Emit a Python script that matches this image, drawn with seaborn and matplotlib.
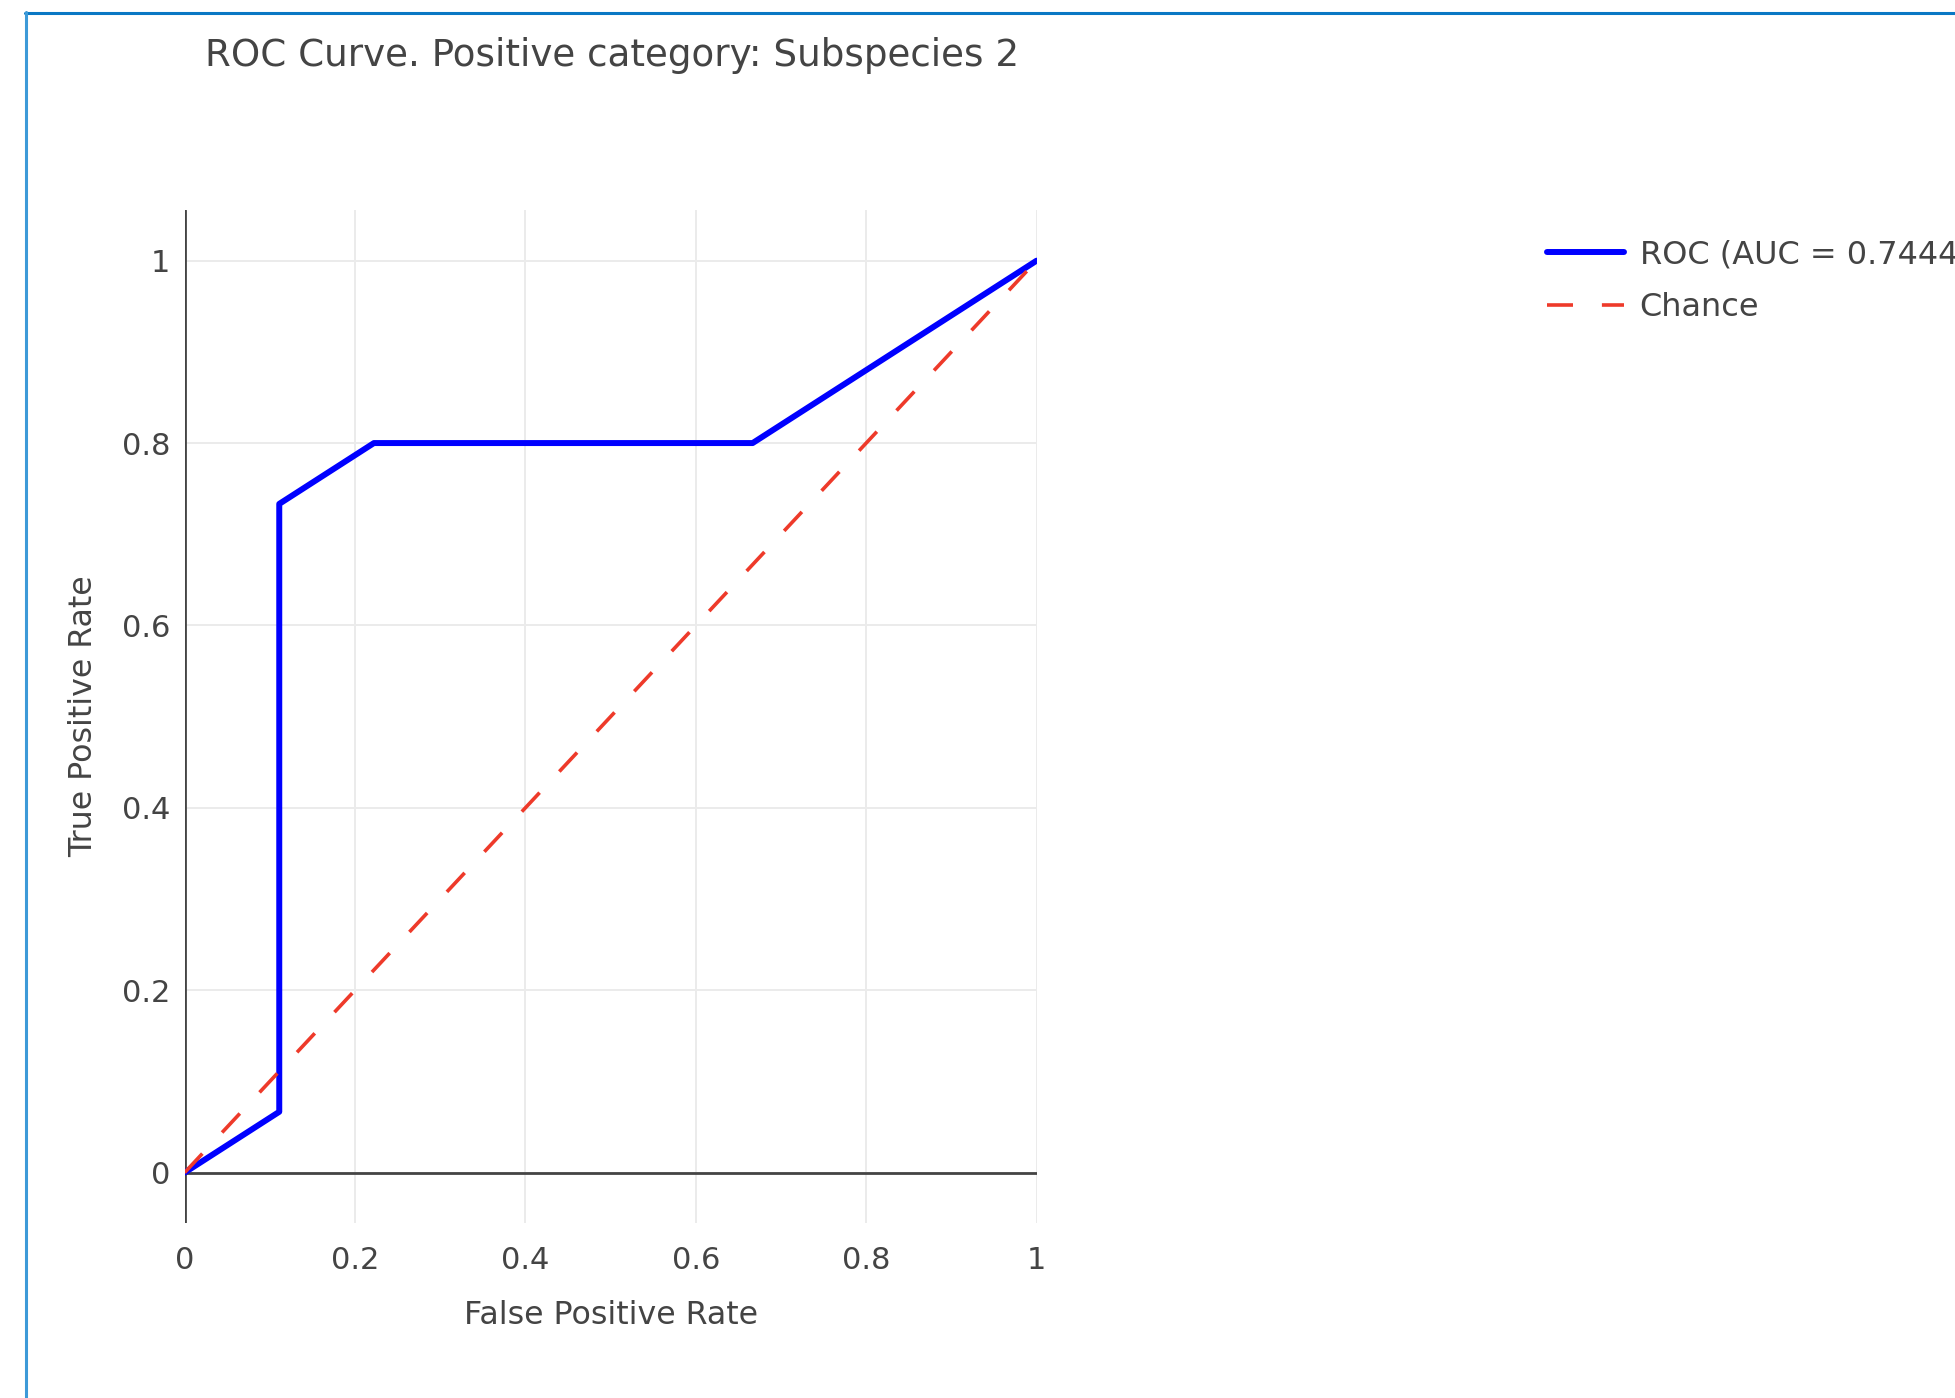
import matplotlib
matplotlib.use("Agg")
import matplotlib.pyplot as plt
from matplotlib.lines import Line2D
import pandas as pd
import seaborn as sns

# ROC curve values
fpr = [0.0, 0.1111, 0.1111, 0.2222, 0.6667, 1.0]
tpr = [0.0, 0.0667, 0.7333, 0.8, 0.8, 1.0]
chance_x = [0.0, 1.0]
chance_y = [0.0, 1.0]
roc_label = "ROC (AUC = 0.7444)"
chance_label = "Chance"
title = "ROC Curve. Positive category: Subspecies 2"
ticks = [0, 0.2, 0.4, 0.6, 0.8, 1]
tick_labels = ["0", "0.2", "0.4", "0.6", "0.8", "1"]

W, H = 1956, 1398
TEXT = "#444444"
BLUE = "#0000ff"
RED = "#ee3a2a"
DASH = [7.2, 8.0]


def main():
    sns.set_style("white")
    plt.rcParams["font.family"] = ["DejaVu Sans"]

    fig = plt.figure(figsize=(W / 100, H / 100), dpi=100)
    fig.patch.set_facecolor("white")

    # plot area in pixels: x 184.6..1036.6, y 209.6..1222.5
    left, right, top, bottom = 184.6, 1036.6, 209.6, 1222.5
    ax = fig.add_axes([left / W, 1 - bottom / H, (right - left) / W, (bottom - top) / H])

    roc = pd.DataFrame({"fpr": fpr, "tpr": tpr})
    chance = pd.DataFrame({"x": chance_x, "y": chance_y})

    sns.lineplot(data=roc, x="fpr", y="tpr", sort=False, estimator=None,
                 color=BLUE, linewidth=4.3, ax=ax, label=roc_label, zorder=4)
    sns.lineplot(data=chance, x="x", y="y", sort=False, estimator=None,
                 color=RED, linewidth=2.6, ax=ax, label=chance_label, zorder=5)
    ax.lines[-1].set_dashes(DASH)

    ax.set_xlim(0, 1)
    ax.set_ylim(-0.0547, 1.056)
    ax.set_xticks(ticks)
    ax.set_xticklabels(tick_labels)
    ax.set_yticks(ticks)
    ax.set_yticklabels(tick_labels)
    ax.tick_params(axis="both", length=0, labelsize=22, labelcolor=TEXT)
    ax.tick_params(axis="x", pad=17)
    ax.tick_params(axis="y", pad=10.5)

    ax.grid(True, color="#ebebeb", linewidth=1.4)
    ax.set_axisbelow(True)
    ax.axhline(0, color=TEXT, linewidth=2.0, zorder=2)
    ax.axvline(0, color=TEXT, linewidth=2.0, zorder=2)
    for s in ax.spines.values():
        s.set_visible(False)

    ax.set_xlabel("False Positive Rate", fontsize=22.8, color=TEXT, va="center")
    ax.set_ylabel("True Positive Rate", fontsize=22.8, color=TEXT, va="center")
    ax.xaxis.set_label_coords(0.5, -(1316 - bottom) / (bottom - top))
    ax.yaxis.set_label_coords(-(left - 84) / (right - left), 0.5)

    fig.text(205 / W, 1 - 55 / H, title, fontsize=26.8, color=TEXT,
             ha="left", va="center")

    ax.get_legend().remove()
    handles = [Line2D([], [], color=BLUE, linewidth=4.3),
               Line2D([], [], color=RED, linewidth=2.6, dashes=DASH)]
    fig.legend(handles, [roc_label, chance_label], loc="upper left",
               bbox_to_anchor=(1547 / W, 1 - 239 / H), frameon=False,
               fontsize=23, labelcolor=TEXT, handlelength=2.4,
               handletextpad=0.5, labelspacing=0.7, borderpad=0,
               borderaxespad=0)

    # blue frame round the chart (top and left edge)
    fig.add_artist(Line2D([25 / W, 1], [1 - 13 / H, 1 - 13 / H],
                          transform=fig.transFigure, color="#0a78c4", linewidth=2.2))
    fig.add_artist(Line2D([26 / W, 26 / W], [0, 1 - 12 / H],
                          transform=fig.transFigure, color="#3d9ad8", linewidth=2.2))

    fig.savefig("out.png", dpi=100)
    plt.close(fig)


if __name__ == "__main__":
    main()
